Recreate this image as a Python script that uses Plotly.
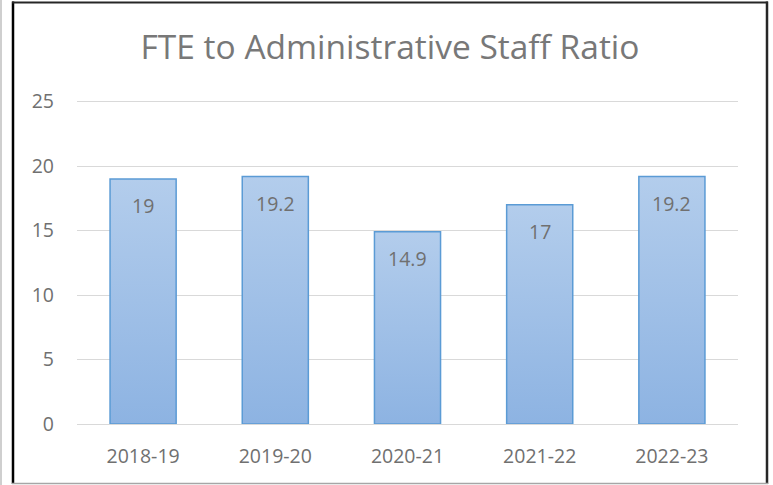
import plotly.graph_objects as go

categories = ["2018-19", "2019-20", "2020-21", "2021-22", "2022-23"]
values = [19, 19.2, 14.9, 17, 19.2]
labels = ["19", "19.2", "14.9", "17", "19.2"]
y_ticks = [0, 5, 10, 15, 20, 25]

text_gray = "#707070"
font_family = "Open Sans, Liberation Sans, sans-serif"
bar_half = 0.25
tick_size = 19.5

fig = go.Figure()

# gradient fills for each bar (drawn beneath outline bars)
for i, v in enumerate(values):
    fig.add_trace(go.Scatter(
        x=[i - bar_half, i - bar_half, i + bar_half, i + bar_half, i - bar_half],
        y=[0, v, v, 0, 0],
        mode="none",
        fill="toself",
        fillgradient=dict(type="vertical",
                          colorscale=[[0, "#8db3e2"], [1, "#b3cdec"]]),
        hoverinfo="skip",
        showlegend=False,
        xaxis="x", yaxis="y",
    ))

# outline bars on the overlaid axes
fig.add_trace(go.Bar(
    x=categories,
    y=values,
    marker=dict(color="rgba(0,0,0,0)", line=dict(color="#5b9bd5", width=1.5)),
    width=2 * bar_half,
    hoverinfo="skip",
    showlegend=False,
    xaxis="x2", yaxis="y2",
))

annotations = [
    dict(x=c, y=v, xref="x2", yref="y2", text=t, showarrow=False,
         yanchor="middle", yshift=-27,
         font=dict(size=tick_size, color=text_gray, family=font_family))
    for c, v, t in zip(categories, values, labels)
]

y_range = [0, 25.2]
x_range = [-0.5, len(categories) - 0.5]

# plot area: x 77..738, zero line at y=424, 5 units = 64.4 px
L, R, B = 77, 738, 424
unit = 322 / 25
T = B - unit * y_range[1]
W, H = R - L, B - T

def px(x):
    return (x - L) / W

def py(y):
    return (B - y) / H

shapes = [
    dict(type="line", xref="paper", yref="paper", x0=px(1), x1=px(1), y0=py(0), y1=py(485),
         line=dict(color="#bfbfbf", width=1.5)),
    dict(type="line", xref="paper", yref="paper", x0=px(13), x1=px(13), y0=py(2), y1=py(484),
         line=dict(color="#000000", width=2.5)),
    dict(type="line", xref="paper", yref="paper", x0=px(12), x1=px(768), y0=py(3), y1=py(3),
         line=dict(color="#262626", width=2)),
    dict(type="line", xref="paper", yref="paper", x0=px(767), x1=px(767), y0=py(2), y1=py(484),
         line=dict(color="#262626", width=2.5)),
    dict(type="line", xref="paper", yref="paper", x0=px(12), x1=px(768), y0=py(483.5), y1=py(483.5),
         line=dict(color="#a6a6a6", width=1.5)),
]

fig.update_layout(
    width=773, height=485,
    margin=dict(l=L, r=773 - R, t=T, b=485 - B),
    paper_bgcolor="white", plot_bgcolor="white",
    title=dict(text="FTE to Administrative Staff Ratio", x=390 / 773, xanchor="center",
               y=1 - 47 / 485, yanchor="middle", xref="container",
               font=dict(size=33.5, color="#787878", family=font_family)),
    font=dict(family=font_family, color=text_gray, size=tick_size),
    showlegend=False,
    xaxis=dict(range=x_range, tickvals=list(range(len(categories))), ticktext=categories,
               showgrid=False, zeroline=False, showline=True, linecolor="#d9d9d9", linewidth=1,
               tickfont=dict(size=tick_size, color=text_gray), ticks="", ticklabelstandoff=15,
               fixedrange=True),
    yaxis=dict(range=y_range, tickvals=y_ticks, showgrid=True, gridcolor="#d9d9d9",
               gridwidth=1, zeroline=False, showline=False, ticks="",
               tickfont=dict(size=tick_size, color=text_gray), ticklabelstandoff=22,
               fixedrange=True),
    xaxis2=dict(overlaying="x", range=x_range, type="category", showgrid=False,
                zeroline=False, showline=False, showticklabels=False, ticks="",
                fixedrange=True),
    yaxis2=dict(overlaying="y", range=y_range, showgrid=False, zeroline=False,
                showline=False, showticklabels=False, ticks="", fixedrange=True),
    shapes=shapes,
    annotations=annotations,
)

fig.write_html("out.html", config={"displayModeBar": False},
               post_script="document.body.style.margin='0';")
